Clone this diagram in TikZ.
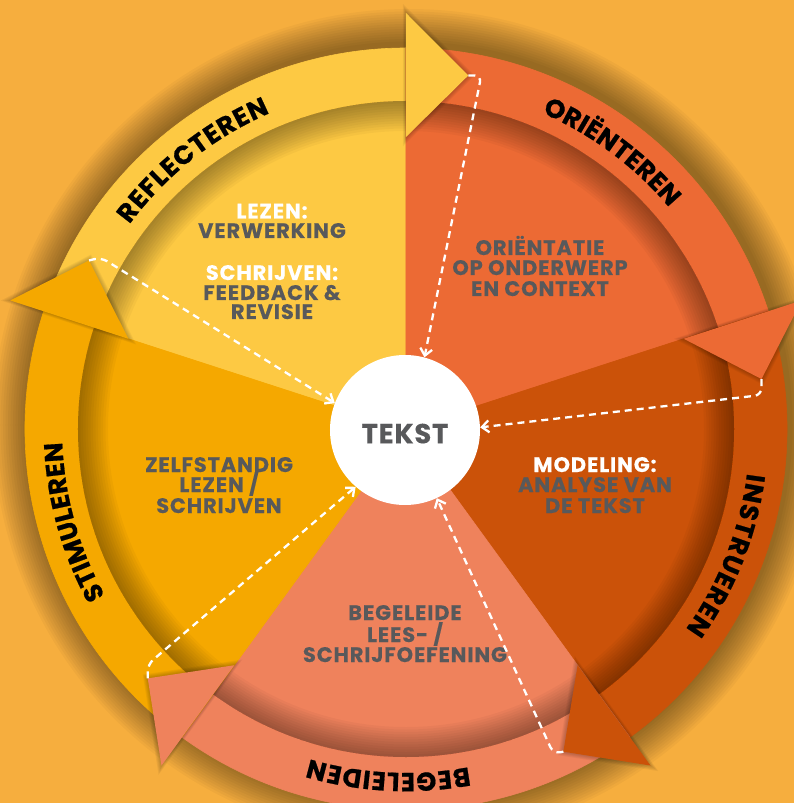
\documentclass[tikz,border=0pt]{standalone}
\usepackage{fontspec}
\newfontfamily\popin{Poppins}[LetterSpace=4,BoldFeatures={FakeBold=0.25}]
\newfontfamily\popring{Poppins}[BoldFeatures={FakeBold=0.7}]
\newfontfamily\popt{Poppins}[LetterSpace=3,BoldFeatures={FakeBold=0.3}]
\usetikzlibrary{decorations.text,arrows.meta}
\definecolor{bgc}{HTML}{F6AE3E}
\definecolor{cyel}{HTML}{FDC943}
\definecolor{cora}{HTML}{EC6A34}
\definecolor{cdark}{HTML}{CB5209}
\definecolor{csal}{HTML}{EF825C}
\definecolor{cyor}{HTML}{F5A800}
\definecolor{tgray}{HTML}{58595B}
\newcommand\wedgefill[3]{\fill[#3,draw=#3,line width=0.6pt] (0,0) -- (#1:381) arc[start angle=#1,end angle=#2,radius=381] -- cycle;}
\newcommand\headshadow[1]{\foreach \s in {1.03,1.06,1.09,1.12,1.15}{\fill[black,opacity=0.045,scale around={\s:(#1-3.3:355)}] (#1:292) -- (#1:416) -- (#1-10:359) -- cycle;}}
\newcommand\headfill[2]{\fill[#2] (#1:292) -- (#1:416) -- (#1-10:359) -- cycle;}
\newcommand\ringlab[3]{\path[decorate,decoration={text along path,text align={fit to path},text={|\popring\bfseries\fontsize{26}{26}\selectfont|#3}}] (#1:344) arc[start angle=#1,end angle=#2,radius=344];}
\begin{document}
\begin{tikzpicture}[x=1pt,y=1pt,
  lbl/.style={anchor=base,inner sep=0pt,text=tgray,font=\popin\bfseries\fontsize{21}{21}\selectfont},
  wl/.style={lbl,text=white},
  flow/.style={draw=white,line width=2.3pt,dash pattern=on 7pt off 5pt,rounded corners=7pt,-{Straight Barb[length=7pt,width=12pt]}}]
\useasboundingbox (-406,-374) rectangle (388,429);
\fill[bgc] (-406,-374) rectangle (388,429);
% outer shadow
\foreach \k in {1,...,14}{\fill[black,opacity=0.03] (3,4) circle[radius=381+2.5*\k];}
% sectors
\wedgefill{162}{90}{cyel}
\wedgefill{90}{18}{cora}
\wedgefill{18}{-54}{cdark}
\wedgefill{-54}{-126}{csal}
\wedgefill{-126}{-198}{cyor}
% inner shadow of the ring
\foreach \k in {1,...,12}{\fill[black,opacity=0.03,even odd rule] (0,0) circle[radius=328] circle[radius=328-2.5*\k];}
% arrow heads
\headshadow{90}\headshadow{18}\headshadow{-54}\headshadow{-126}\headshadow{162}
\headfill{90}{cyel}
\headfill{18}{cora}
\headfill{-54}{cdark}
\headfill{-126}{csal}
\headfill{162}{cyor}
\coordinate (t1) at (80:359);
\coordinate (t2) at (8:359);
\coordinate (t3) at (-64:359);
\coordinate (t4) at (-136:359);
\coordinate (t5) at (152:359);
% ring labels
\ringlab{143.5}{113.3}{REFLECTEREN}
\ringlab{66.7}{40.1}{ORIËNTEREN}
\ringlab{-7.4}{-35.6}{INSTRUEREN}
\ringlab{-79.5}{-106.3}{BEGELEIDEN}
\ringlab{209}{182.2}{STIMULEREN}
% centre
\node[circle,fill=white,minimum size=150pt,inner sep=0pt,text height=26.6pt,text depth=0pt,text=tgray,font=\popt\bfseries\fontsize{27.5}{27.5}\selectfont] (tekst) at (-1,-1) {TEKST};
% sector texts
\node[wl] (y1) at (-134,210.5) {LEZEN:};
\node[lbl] (y2) at (-134,191) {VERWERKING};
\node[wl] (y3) at (-134,149) {SCHRIJVEN:};
\node[lbl] (y4) at (-134,129) {FEEDBACK \&};
\node[lbl] (y5) at (-134,110) {REVISIE};
\node[lbl] (o1) at (134,174) {ORIËNTATIE};
\node[lbl] (o2) at (134,154) {OP ONDERWERP};
\node[lbl] (o3) at (134,133) {EN CONTEXT};
\node[wl] (d1) at (189,-43) {MODELING:};
\node[lbl] (d2) at (189,-63) {ANALYSE VAN};
\node[lbl] (d3) at (189,-84) {DE TEKST};
\node[lbl] (s1) at (-1,-191) {BEGELEIDE};
\node[lbl] (s2) at (-1,-213) {LEES- /};
\node[lbl] (s3) at (-1,-233) {SCHRIJFOEFENING};
\node[lbl] (z1) at (-187,-43) {ZELFSTANDIG};
\node[lbl] (z2) at (-187,-63) {LEZEN /};
\node[lbl] (z3) at (-187,-84) {SCHRIJVEN};
% dashed flows
\draw[flow] (t1) -- ++(13,0) -- (tekst.75);
\draw[flow] (t2) -- ++(0,-16) -- (tekst.2);
\draw[flow] (t3) -- ++(-10,-2) -- (tekst.-65);
\draw[flow] (t4) -- ++(0,14) -- (tekst.-131);
\draw[flow] (t5) -- ++(12,3) -- (tekst.159);
\end{tikzpicture}
\end{document}
